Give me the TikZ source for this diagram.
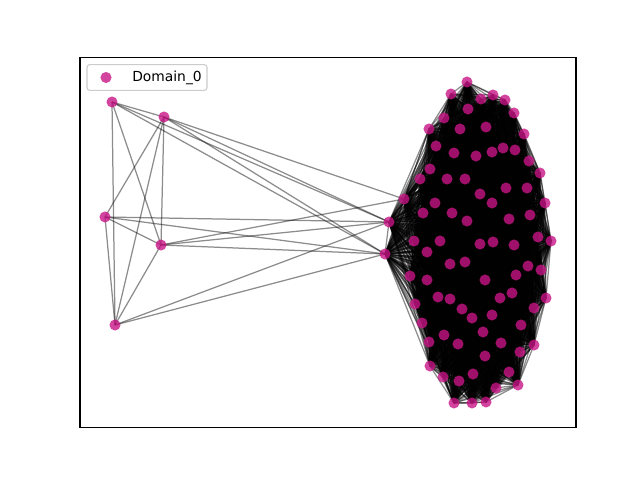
\documentclass[tikz,border=0pt]{standalone}
\usepackage{fontspec}
\setmainfont{DejaVu Sans}
\definecolor{mvred}{RGB}{199,21,133}

\begin{document}
\begin{tikzpicture}[x=.01in,y=-.01in,
  edge/.style={black,draw opacity=.45,line width=.9pt},
  dot/.style={circle,fill=mvred,fill opacity=.8,draw=none,inner sep=0pt,minimum size=8pt}]
\path[use as bounding box] (0,0) rectangle (640,480);
% left group
\foreach \x/\y [count=\i] in {112/102,164/117,105/217,161/245,115/325}
  \coordinate (l\i) at (\x,\y);
% right group (bridge nodes first)
\foreach \x/\y [count=\i] in {404/199,389/222,385/254,
  467/82,451/94,481/99,493/95,505/100,468/109,514/113,444/118,429/129,460/129,
  486/127,524/134,436/146,454/153,476/156,492/152,503/148,515/150,529/161,540/173,
  430/169,420/179,447/179,465/179,506/188,527/188,
  480/194,492/203,545/203,435/203,423/213,452/213,509/219,530/215,467/221,538/237,
  551/241,414/241,440/241,480/244,493/242,514/245,427/252,450/264,465/262,528/266,
  541/270,410/276,516/275,427/280,485/280,512/293,500/298,438/297,450/299,546/298,
  415/304,462/309,472/318,492/315,534/308,422/323,521/325,444/335,483/332,429/342,
  458/344,501/343,534/345,520/352,485/356,430/366,509/372,473/374,443/377,459/381,
  496/388,518/385,454/403,472/403,486/402}
  \coordinate (c\i) at (\x,\y);
% edges
\foreach \a/\b in {l1/l2,l1/l4,l1/l5,l2/l3,l2/l4,l2/l5,l3/l4,l3/l5,l4/l5,
  l1/c2,l1/c3,l2/c1,l2/c2,l2/c3,l3/c2,l3/c3,l4/c1,l4/c2,l4/c3,l5/c2,l5/c3}
  \draw[edge] (\a) -- (\b);
\foreach \i in {1,...,83}{
  \pgfmathtruncatemacro\jj{\i+1}
  \foreach \j in {\jj,...,84}
    \draw[edge] (c\i) -- (c\j);
}
% nodes
\foreach \i in {1,...,5}
  \node[dot] (dl\i) at (l\i) {};
\foreach \i in {1,...,84}
  \node[dot] (dc\i) at (c\i) {};
% axes
\draw[line width=.8pt] (80,57.6) rectangle (576,427.2);
% legend
\draw[rounded corners=2pt,draw=black!20,fill=white,fill opacity=.8,line width=.8pt] (87,64.6) rectangle (207,90.4);
\node[dot] (legdot) at (106,77.5) {};
\node[anchor=west,inner sep=0pt,font=\fontsize{10}{12}\selectfont] (legtext) at (132,77.5) {Domain\_0};
\end{tikzpicture}
\end{document}
